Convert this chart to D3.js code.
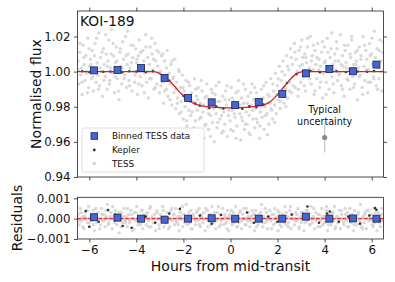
<!DOCTYPE html>
<html><head><meta charset="utf-8">
<script src="https://cdn.jsdelivr.net/npm/d3@7"></script>
<style>body{margin:0;background:#fff}svg{display:block}text{font-family:"DejaVu Sans",sans-serif}</style>
</head><body>
<svg id="c" width="395" height="282"></svg>
<script>
// ---------- DATA ----------
const xTicks = [-6,-4,-2,0,2,4,6];
const fluxTicks = [0.94,0.96,0.98,1.00,1.02];
const residTicks = [-0.001,0.000,0.001];

const binX = [-5.8,-4.8,-3.8,-2.8,-1.8,-0.8,0.2,1.2,2.2,3.2,4.2,5.2,6.2];
const binFlux = [1.0007,1.0009,1.0020,0.9964,0.9850,0.9825,0.9809,0.9827,0.9873,0.9990,1.0015,1.0002,1.0040];
const binResid = [0.00007,0.00005,0.0000,-0.00005,0.0000,0.00002,0.0000,0.0000,0.0000,0.0001,0.0000,0.00001,0.0000];

const modelX = [-6.5,-3.3,-3.1,-2.9,-2.7,-2.5,-2.3,-2.1,-1.9,-1.7,-1.5,-1.2,-0.8,-0.4,0,0.4,0.8,1.2,1.5,1.7,1.9,2.1,2.3,2.5,2.7,2.9,3.1,3.3,6.5];
const modelFlux = [1.000,1.000,0.9995,0.998,0.996,0.9935,0.9905,0.9875,0.985,0.983,0.9815,0.9805,0.9798,0.9795,0.9794,0.9795,0.9798,0.9805,0.9815,0.983,0.9855,0.9885,0.9918,0.995,0.9978,0.9994,1.000,1.000,1.000];

const tessFlux = [[-6.48,1.006],[-6.45,0.993],[-6.41,1.011],[-6.37,0.998],[-6.33,1.002],[-6.30,0.987],[-6.26,1.015],[-6.22,1.004],[-6.18,0.995],[-6.14,1.009],[-6.10,0.999],[-6.06,1.019],[-6.03,0.991],[-5.99,1.003],[-5.95,1.007],[-5.91,0.996],[-5.87,1.012],[-5.83,0.989],[-5.79,1.001],[-5.75,1.016],[-5.71,0.994],[-5.67,1.005],[-5.63,0.998],[-5.60,1.022],[-5.56,0.992],[-5.52,1.008],[-5.48,1.000],[-5.44,0.986],[-5.40,1.013],[-5.36,1.004],[-5.32,0.997],[-5.28,1.010],[-5.24,0.990],[-5.21,1.006],[-5.17,1.018],[-5.13,0.995],[-5.09,1.002],[-5.05,1.024],[-5.01,0.999],[-4.97,1.009],[-4.93,0.988],[-4.89,1.005],[-4.85,1.014],[-4.81,0.996],[-4.78,1.001],[-4.74,0.984],[-4.70,1.011],[-4.66,1.003],[-4.62,0.993],[-4.58,1.017],[-4.54,1.007],[-4.50,0.998],[-4.46,1.020],[-4.42,0.991],[-4.39,1.004],[-4.35,1.010],[-4.31,0.995],[-4.27,1.002],[-4.23,1.015],[-4.19,0.989],[-4.15,1.008],[-4.11,1.000],[-4.07,0.994],[-4.03,1.013],[-3.99,1.005],[-3.95,0.987],[-3.91,1.009],[-3.88,1.018],[-3.84,0.997],[-3.80,1.003],[-3.76,0.992],[-3.72,1.012],[-3.68,1.006],[-3.64,0.999],[-3.60,1.021],[-3.56,0.994],[-3.52,1.008],[-3.49,0.985],[-3.45,1.004],[-3.41,1.014],[-3.37,0.996],[-3.33,1.010],[-3.29,1.001],[-3.25,0.990],[-3.21,1.016],[-3.17,1.006],[-3.13,0.993],[-3.09,1.003],[-3.05,1.011],[-3.01,0.988],[-2.97,1.000],[-2.93,1.009],[-2.89,0.994],[-2.85,0.982],[-2.81,1.006],[-2.77,0.997],[-2.73,0.990],[-2.69,1.012],[-2.65,0.986],[-2.61,0.999],[-2.57,0.993],[-2.53,1.004],[-2.49,0.981],[-2.45,0.996],[-2.41,0.988],[-2.37,1.007],[-2.33,0.979],[-2.29,0.994],[-2.25,0.985],[-2.21,1.001],[-2.17,0.976],[-2.13,0.991],[-2.09,0.983],[-2.05,0.998],[-2.01,0.973],[-1.97,0.989],[-1.93,0.980],[-1.89,0.995],[-1.85,0.969],[-1.81,0.986],[-1.77,0.978],[-1.73,0.992],[-1.69,0.975],[-1.65,0.988],[-1.61,0.966],[-1.57,0.983],[-1.53,0.996],[-1.49,0.972],[-1.45,0.986],[-1.41,0.978],[-1.37,0.991],[-1.33,0.964],[-1.29,0.982],[-1.25,0.974],[-1.21,0.989],[-1.17,0.977],[-1.13,0.962],[-1.09,0.985],[-1.05,0.970],[-1.01,0.993],[-0.97,0.979],[-0.93,0.967],[-0.89,0.984],[-0.85,0.975],[-0.81,0.990],[-0.77,0.971],[-0.73,0.981],[-0.69,0.960],[-0.65,0.987],[-0.61,0.976],[-0.57,0.968],[-0.53,0.983],[-0.49,0.994],[-0.45,0.973],[-0.41,0.979],[-0.37,0.965],[-0.33,0.986],[-0.29,0.977],[-0.25,0.970],[-0.21,0.989],[-0.17,0.981],[-0.13,0.963],[-0.09,0.975],[-0.05,0.984],[-0.01,0.972],[0.03,0.991],[0.07,0.978],[0.11,0.966],[0.15,0.983],[0.19,0.974],[0.23,0.988],[0.27,0.969],[0.31,0.980],[0.35,0.995],[0.39,0.976],[0.43,0.961],[0.47,0.985],[0.51,0.972],[0.55,0.982],[0.59,0.967],[0.63,0.990],[0.67,0.977],[0.71,0.970],[0.75,0.986],[0.79,0.975],[0.83,0.964],[0.87,0.981],[0.91,0.993],[0.95,0.973],[0.99,0.984],[1.03,0.968],[1.07,0.979],[1.11,0.988],[1.15,0.971],[1.19,0.983],[1.23,0.962],[1.27,0.977],[1.31,0.990],[1.35,0.974],[1.39,0.985],[1.43,0.967],[1.47,0.980],[1.51,0.994],[1.55,0.976],[1.59,0.987],[1.63,0.970],[1.67,0.982],[1.71,0.996],[1.75,0.978],[1.79,0.973],[1.83,0.989],[1.87,0.981],[1.91,0.999],[1.95,0.976],[1.99,0.992],[2.03,0.984],[2.07,1.003],[2.11,0.979],[2.15,0.995],[2.19,0.987],[2.23,1.006],[2.27,0.982],[2.31,0.998],[2.35,0.990],[2.39,1.009],[2.43,0.985],[2.47,1.001],[2.51,0.994],[2.55,1.013],[2.59,0.988],[2.63,1.004],[2.67,0.997],[2.71,1.016],[2.75,0.991],[2.79,1.007],[2.83,1.000],[2.87,0.986],[2.91,1.012],[2.95,1.003],[2.99,0.994],[3.03,1.018],[3.07,1.008],[3.11,0.997],[3.15,1.010],[3.19,0.989],[3.23,1.005],[3.27,1.014],[3.31,0.998],[3.35,1.002],[3.39,1.020],[3.43,0.993],[3.47,1.009],[3.51,1.001],[3.55,0.987],[3.59,1.012],[3.63,1.004],[3.67,0.996],[3.71,1.016],[3.75,1.007],[3.79,0.991],[3.83,1.003],[3.87,1.011],[3.91,0.985],[3.95,0.999],[3.99,1.014],[4.03,1.006],[4.07,0.994],[4.11,1.019],[4.15,1.002],[4.19,0.990],[4.23,1.008],[4.27,1.013],[4.31,0.997],[4.35,1.004],[4.39,0.988],[4.43,1.010],[4.47,1.001],[4.51,1.017],[4.55,0.995],[4.59,1.006],[4.63,0.999],[4.67,1.021],[4.71,0.992],[4.75,1.009],[4.79,1.003],[4.83,0.986],[4.87,1.012],[4.91,1.005],[4.95,0.996],[4.99,1.015],[5.03,1.001],[5.07,0.990],[5.11,1.008],[5.15,1.018],[5.19,0.997],[5.23,1.004],[5.27,0.993],[5.31,1.011],[5.35,1.006],[5.39,0.984],[5.43,1.002],[5.47,1.014],[5.51,0.998],[5.55,1.009],[5.59,0.991],[5.63,1.020],[5.67,1.003],[5.71,0.995],[5.75,1.012],[5.79,1.007],[5.83,0.988],[5.87,1.001],[5.91,1.016],[5.95,0.994],[5.99,1.010],[6.03,1.004],[6.07,0.997],[6.11,1.023],[6.15,1.008],[6.19,0.992],[6.23,1.013],[6.27,1.002],[6.31,0.996],[6.35,1.018],[6.39,1.006],[6.43,0.989],[6.47,1.011]];

const tessFlux2 = [[-6.46,1.001],[-6.39,1.016],[-6.31,0.994],[-6.24,1.008],[-6.16,1.000],[-6.08,0.988],[-6.01,1.013],[-5.93,1.004],[-5.85,0.997],[-5.77,1.009],[-5.69,1.019],[-5.61,0.990],[-5.54,1.002],[-5.46,1.011],[-5.38,0.995],[-5.30,1.021],[-5.22,1.003],[-5.15,0.993],[-5.07,1.010],[-4.99,1.016],[-4.91,0.997],[-4.83,1.006],[-4.76,0.989],[-4.68,1.013],[-4.60,1.002],[-4.52,0.996],[-4.44,1.009],[-4.37,1.023],[-4.29,0.992],[-4.21,1.005],[-4.13,1.015],[-4.05,0.998],[-3.98,1.007],[-3.90,0.993],[-3.82,1.011],[-3.74,1.002],[-3.66,0.988],[-3.59,1.014],[-3.51,1.000],[-3.43,0.996],[-3.35,1.019],[-3.27,1.007],[-3.20,0.991],[-3.12,1.012],[-3.04,0.999],[-2.96,0.992],[-2.88,1.010],[-2.80,0.989],[-2.72,1.002],[-2.65,0.995],[-2.57,0.984],[-2.49,1.006],[-2.41,0.997],[-2.33,0.990],[-2.26,0.982],[-2.18,1.000],[-2.10,0.977],[-2.02,0.991],[-1.94,0.985],[-1.87,0.972],[-1.79,0.994],[-1.71,0.983],[-1.63,0.977],[-1.55,0.968],[-1.48,0.990],[-1.40,0.984],[-1.32,0.973],[-1.24,0.995],[-1.16,0.981],[-1.09,0.969],[-1.01,0.986],[-0.93,0.976],[-0.85,0.963],[-0.77,0.988],[-0.70,0.979],[-0.62,0.992],[-0.54,0.971],[-0.46,0.983],[-0.38,0.975],[-0.31,0.966],[-0.23,0.984],[-0.15,0.992],[-0.07,0.978],[0.01,0.967],[0.08,0.985],[0.16,0.976],[0.24,0.962],[0.32,0.989],[0.40,0.981],[0.47,0.974],[0.55,0.993],[0.63,0.970],[0.71,0.982],[0.79,0.965],[0.86,0.988],[0.94,0.978],[1.02,0.991],[1.10,0.973],[1.18,0.984],[1.25,0.969],[1.33,0.980],[1.41,0.992],[1.49,0.975],[1.57,0.964],[1.64,0.986],[1.72,0.979],[1.80,0.993],[1.88,0.971],[1.96,0.987],[2.03,0.996],[2.11,0.983],[2.19,1.000],[2.27,0.991],[2.35,0.980],[2.42,1.003],[2.50,0.989],[2.58,1.008],[2.66,0.992],[2.74,1.011],[2.81,0.998],[2.89,0.990],[2.97,1.014],[3.05,1.004],[3.13,0.992],[3.20,1.008],[3.28,1.019],[3.36,0.996],[3.44,1.006],[3.52,1.015],[3.59,0.989],[3.67,1.008],[3.75,1.001],[3.83,0.994],[3.91,1.017],[3.98,1.005],[4.06,0.987],[4.14,1.011],[4.22,1.000],[4.30,1.022],[4.37,0.993],[4.45,1.006],[4.53,1.013],[4.61,0.998],[4.69,1.004],[4.76,0.990],[4.84,1.015],[4.92,1.002],[5.00,0.995],[5.08,1.010],[5.15,1.020],[5.23,0.991],[5.31,1.004],[5.39,1.012],[5.47,0.997],[5.54,1.007],[5.62,0.987],[5.70,1.015],[5.78,1.001],[5.86,0.994],[5.93,1.009],[6.01,1.019],[6.09,0.996],[6.17,1.004],[6.25,0.990],[6.32,1.012],[6.40,1.000],[6.48,1.017]];

const keplerFlux = [[-6.3,1.0002],[-6.0,0.9998],[-5.7,1.0003],[-5.4,0.9999],[-5.1,1.0001],[-4.6,0.9997],[-4.3,1.0002],[-4.0,1.0000],[-3.6,0.9998],[-3.3,1.0002],[-2.6,0.9948],[-2.0,0.9862],[-1.5,0.9818],[-1.3,0.9806],[-0.9,0.9793],[-0.6,0.9801],[-0.3,0.9790],[0.1,0.9797],[0.5,0.9789],[0.8,0.9802],[1.1,0.9799],[1.4,0.9812],[2.4,0.9935],[2.8,0.9986],[3.4,1.0003],[3.8,0.9997],[4.5,1.0002],[4.9,0.9998],[5.4,1.0001],[5.8,0.9999],[6.1,1.0003]];

// residuals in units of 1e-4
const tessResid1e4 = [[-6.48,2],[-6.43,-3],[-6.38,5],[-6.33,-1],[-6.28,1],[-6.23,-5],[-6.18,3],[-6.13,0],[-6.08,-2],[-6.03,6],[-5.98,-4],[-5.93,1],[-5.88,-1],[-5.83,4],[-5.78,-6],[-5.73,2],[-5.68,-2],[-5.63,3],[-5.58,0],[-5.53,-3],[-5.48,5],[-5.43,-1],[-5.38,2],[-5.33,-4],[-5.28,1],[-5.23,7],[-5.18,-2],[-5.13,0],[-5.08,3],[-5.03,-5],[-4.98,1],[-4.93,-1],[-4.88,4],[-4.83,-3],[-4.78,2],[-4.73,-7],[-4.68,0],[-4.63,3],[-4.58,-2],[-4.53,5],[-4.48,-1],[-4.43,1],[-4.38,-4],[-4.33,2],[-4.28,-2],[-4.23,4],[-4.18,-6],[-4.13,0],[-4.08,3],[-4.03,-1],[-3.98,6],[-3.93,-3],[-3.88,1],[-3.83,-2],[-3.78,4],[-3.73,-5],[-3.68,2],[-3.63,0],[-3.58,-3],[-3.53,3],[-3.48,-1],[-3.43,5],[-3.38,-4],[-3.33,1],[-3.28,-2],[-3.23,2],[-3.18,-6],[-3.13,4],[-3.08,0],[-3.03,-3],[-2.98,2],[-2.93,-1],[-2.88,6],[-2.83,-4],[-2.78,1],[-2.73,-2],[-2.68,3],[-2.63,-5],[-2.58,0],[-2.53,4],[-2.48,-1],[-2.43,2],[-2.38,-3],[-2.33,5],[-2.28,-2],[-2.23,1],[-2.18,-6],[-2.13,3],[-2.08,0],[-2.03,-4],[-1.98,2],[-1.93,-1],[-1.88,7],[-1.83,-3],[-1.78,1],[-1.73,-2],[-1.68,4],[-1.63,-5],[-1.58,2],[-1.53,0],[-1.48,-3],[-1.43,3],[-1.38,-1],[-1.33,5],[-1.28,-4],[-1.23,1],[-1.18,-2],[-1.13,3],[-1.08,-6],[-1.03,0],[-0.98,4],[-0.93,-1],[-0.88,2],[-0.83,-3],[-0.78,6],[-0.73,-2],[-0.68,1],[-0.63,-5],[-0.58,3],[-0.53,0],[-0.48,-4],[-0.43,2],[-0.38,-1],[-0.33,5],[-0.28,-3],[-0.23,1],[-0.18,-2],[-0.13,4],[-0.08,-6],[-0.03,2],[0.02,0],[0.07,-3],[0.12,3],[0.17,-1],[0.22,6],[0.27,-4],[0.32,1],[0.37,-2],[0.42,4],[0.47,-5],[0.52,2],[0.57,0],[0.62,-3],[0.67,5],[0.72,-1],[0.77,3],[0.82,-4],[0.87,1],[0.92,-2],[0.97,2],[1.02,-6],[1.07,4],[1.12,0],[1.17,-3],[1.22,2],[1.27,-1],[1.32,7],[1.37,-4],[1.42,1],[1.47,-2],[1.52,3],[1.57,-5],[1.62,0],[1.67,4],[1.72,-1],[1.77,2],[1.82,-3],[1.87,5],[1.92,-2],[1.97,1],[2.02,-6],[2.07,3],[2.12,0],[2.17,-4],[2.22,2],[2.27,-1],[2.32,6],[2.37,-3],[2.42,1],[2.47,-2],[2.52,4],[2.57,-5],[2.62,2],[2.67,0],[2.72,-3],[2.77,3],[2.82,-1],[2.87,5],[2.92,-4],[2.97,1],[3.02,-2],[3.07,3],[3.12,-6],[3.17,0],[3.22,4],[3.27,-1],[3.32,2],[3.37,-3],[3.42,6],[3.47,-2],[3.52,1],[3.57,-5],[3.62,3],[3.67,0],[3.72,-4],[3.77,2],[3.82,-1],[3.87,5],[3.92,-3],[3.97,1],[4.02,-2],[4.07,4],[4.12,-6],[4.17,2],[4.22,0],[4.27,-3],[4.32,3],[4.37,-1],[4.42,6],[4.47,-4],[4.52,1],[4.57,-2],[4.62,4],[4.67,-5],[4.72,2],[4.77,0],[4.82,-3],[4.87,5],[4.92,-1],[4.97,3],[5.02,-4],[5.07,1],[5.12,-2],[5.17,2],[5.22,-6],[5.27,4],[5.32,0],[5.37,-3],[5.42,2],[5.47,-1],[5.52,7],[5.57,-4],[5.62,1],[5.67,-2],[5.72,3],[5.77,-5],[5.82,0],[5.87,4],[5.92,-1],[5.97,2],[6.02,-3],[6.07,5],[6.12,-2],[6.17,1],[6.22,-6],[6.27,3],[6.32,0],[6.37,-4],[6.42,2],[6.47,-1]];

const tessResid2_1e4 = [[-6.45,-1],[-6.36,3],[-6.27,-4],[-6.18,1],[-6.09,4],[-6.00,-2],[-5.91,2],[-5.82,-3],[-5.73,5],[-5.64,0],[-5.55,-5],[-5.46,2],[-5.37,-1],[-5.28,4],[-5.19,-3],[-5.10,1],[-5.01,6],[-4.92,-2],[-4.83,0],[-4.74,3],[-4.65,-4],[-4.56,1],[-4.47,-2],[-4.38,5],[-4.29,-1],[-4.20,2],[-4.11,-5],[-4.02,3],[-3.93,0],[-3.84,-3],[-3.75,4],[-3.66,-1],[-3.57,2],[-3.48,-4],[-3.39,6],[-3.30,0],[-3.21,-2],[-3.12,3],[-3.03,-5],[-2.94,1],[-2.85,4],[-2.76,-2],[-2.67,0],[-2.58,-4],[-2.49,5],[-2.40,2],[-2.31,-1],[-2.22,-3],[-2.13,1],[-2.04,6],[-1.95,-2],[-1.86,0],[-1.77,3],[-1.68,-5],[-1.59,1],[-1.50,-1],[-1.41,4],[-1.32,-3],[-1.23,2],[-1.14,0],[-1.05,5],[-0.96,-4],[-0.87,1],[-0.78,-2],[-0.69,3],[-0.60,-1],[-0.51,6],[-0.42,-3],[-0.33,0],[-0.24,2],[-0.15,-5],[-0.06,1],[0.03,4],[0.12,-2],[0.21,0],[0.30,-4],[0.39,3],[0.48,-1],[0.57,5],[0.66,-3],[0.75,1],[0.84,-1],[0.93,4],[1.02,2],[1.11,-4],[1.20,0],[1.29,3],[1.38,-2],[1.47,5],[1.56,-1],[1.65,1],[1.74,-5],[1.83,2],[1.92,0],[2.01,4],[2.10,-3],[2.19,1],[2.28,-2],[2.37,3],[2.46,-4],[2.55,6],[2.64,0],[2.73,-1],[2.82,2],[2.91,-5],[3.00,3],[3.09,1],[3.18,-2],[3.27,4],[3.36,-3],[3.45,0],[3.54,5],[3.63,-1],[3.72,2],[3.81,-4],[3.90,1],[3.99,-2],[4.08,6],[4.17,-3],[4.26,0],[4.35,3],[4.44,-5],[4.53,1],[4.62,-1],[4.71,4],[4.80,-2],[4.89,2],[4.98,-4],[5.07,5],[5.16,0],[5.25,-3],[5.34,1],[5.43,3],[5.52,-2],[5.61,-5],[5.70,2],[5.79,4],[5.88,-1],[5.97,0],[6.06,-4],[6.15,3],[6.24,1],[6.33,-2],[6.42,5]];

const keplerResid1e4 = [[-6.15,3.8],[-6.0,-4.0],[-5.6,-1.5],[-5.2,4.2],[-4.9,2.0],[-4.58,-3.6],[-4.2,-4.5],[-3.6,1.0],[-3.2,-2.0],[-2.6,2.5],[-2.15,4.8],[-1.7,-1.0],[-1.3,1.5],[-0.8,-2.5],[-0.4,1.8],[0.3,-1.2],[0.7,3.0],[1.0,-2.0],[1.6,1.0],[2.0,-1.5],[2.6,2.0],[3.27,6.0],[3.76,-2.0],[4.1,2.5],[4.22,3.5],[4.6,-1.5],[5.0,1.0],[5.5,-2.5],[5.9,1.5],[6.14,5.2],[6.2,4.4],[6.35,-1.0]];

const uncX = 4, uncFlux = 0.9625, uncErr = 0.0085;

// ---------- LAYOUT ----------
const svg = d3.select("#c");
const x = d3.scaleLinear().domain([-6.5,6.5]).range([77.5,383.5]);
const yT = d3.scaleLinear().domain([0.94,1.0345]).range([177,11]);
const yB = d3.scaleLinear().domain([-0.001,0.00105]).range([239,197.3]);
const defs = svg.append("defs");
defs.append("clipPath").attr("id","cT").append("rect").attr("x",77.5).attr("y",11).attr("width",306).attr("height",166);
defs.append("clipPath").attr("id","cB").append("rect").attr("x",77.5).attr("y",197.3).attr("width",306).attr("height",41.7);

const grey = "#d3d3d3";
const allTess = tessFlux.concat(tessFlux2);
const allResid = tessResid1e4.concat(tessResid2_1e4);
// ---- top panel ----
const gT = svg.append("g").attr("clip-path","url(#cT)");
gT.selectAll("circle.t").data(allTess).join("circle").attr("cx",d=>x(d[0])).attr("cy",d=>yT(d[1])).attr("r",1.75).attr("fill",grey).attr("opacity",0.85);
gT.append("line").attr("x1",x(uncX)).attr("x2",x(uncX)).attr("y1",yT(uncFlux+uncErr)).attr("y2",yT(uncFlux-uncErr)).attr("stroke","#cbcbcb").attr("stroke-width",1.3);
gT.append("circle").attr("cx",x(uncX)).attr("cy",yT(uncFlux)).attr("r",2.6).attr("fill","#8a8a8a");
gT.selectAll("circle.k").data(keplerFlux).join("circle").attr("cx",d=>x(d[0])).attr("cy",d=>yT(d[1])).attr("r",1.3).attr("fill","#333");
const line = d3.line().x(d=>x(d[0])).y(d=>yT(d[1])).curve(d3.curveMonotoneX);
gT.append("path").attr("d",line(modelX.map((v,i)=>[v,modelFlux[i]]))).attr("fill","none").attr("stroke","#d62020").attr("stroke-width",1.3);
gT.selectAll("rect.b").data(binX).join("rect").attr("x",(d)=>x(d)-3.5).attr("y",(d,i)=>yT(binFlux[i])-3.5).attr("width",7).attr("height",7).attr("fill","#4466d4").attr("stroke","#1b1f4a").attr("stroke-width",0.8);

// ---- bottom panel ----
const gB = svg.append("g").attr("clip-path","url(#cB)");
gB.selectAll("circle.t").data(allResid).join("circle").attr("cx",d=>x(d[0])).attr("cy",d=>yB(d[1]/1e4)).attr("r",1.75).attr("fill",grey).attr("opacity",0.85);
gB.append("rect").attr("x",77.5).attr("width",306).attr("y",yB(0.00008)).attr("height",yB(-0.00008)-yB(0.00008)).attr("fill","#f3a8a8").attr("opacity",0.55);
gB.selectAll("circle.k").data(keplerResid1e4).join("circle").attr("cx",d=>x(d[0])).attr("cy",d=>yB(d[1]/1e4)).attr("r",1.3).attr("fill","#333");
gB.append("line").attr("x1",77.5).attr("x2",383.5).attr("y1",yB(0)).attr("y2",yB(0)).attr("stroke","#d62020").attr("stroke-width",1).attr("stroke-dasharray","3.7,1.6");
gB.selectAll("rect.b").data(binX).join("rect").attr("x",(d)=>x(d)-3.5).attr("y",(d,i)=>yB(binResid[i])-3.5).attr("width",7).attr("height",7).attr("fill","#4466d4").attr("stroke","#1b1f4a").attr("stroke-width",0.8);

// ---- axes ----
function styleAxis(g){ g.select(".domain").remove(); g.selectAll("line").attr("stroke","#222").attr("stroke-width",0.8); g.selectAll("text").attr("font-size","11.8px").attr("fill","#111").attr("font-family","DejaVu Sans"); }
svg.append("g").attr("transform","translate(77.5,0)").call(d3.axisLeft(yT).tickValues(fluxTicks).tickFormat(d3.format(".2f")).tickSize(3.5).tickPadding(3.5)).call(styleAxis);
svg.append("g").attr("transform","translate(383.5,0)").call(d3.axisRight(yT).tickValues(fluxTicks).tickFormat("").tickSize(3.5)).call(styleAxis);
svg.append("g").attr("transform","translate(0,11)").call(d3.axisTop(x).tickValues(xTicks).tickFormat("").tickSize(3.5)).call(styleAxis);
svg.append("g").attr("transform","translate(0,177)").call(d3.axisBottom(x).tickValues(xTicks).tickFormat("").tickSize(3.5)).call(styleAxis);
svg.append("g").attr("transform","translate(77.5,0)").call(d3.axisLeft(yB).tickValues(residTicks).tickFormat(d3.format(".3f")).tickSize(3.5).tickPadding(3.5)).call(styleAxis);
svg.append("g").attr("transform","translate(0,239)").call(d3.axisBottom(x).tickValues(xTicks).tickFormat(d3.format("d")).tickSize(3.5).tickPadding(3.5)).call(styleAxis);

svg.append("rect").attr("x",77.5).attr("y",11).attr("width",306).attr("height",166).attr("fill","none").attr("stroke","#222").attr("stroke-width",0.8);
svg.append("rect").attr("x",77.5).attr("y",197.3).attr("width",306).attr("height",41.7).attr("fill","none").attr("stroke","#222").attr("stroke-width",0.8);

// labels
svg.append("text").attr("x",80).attr("y",25.7).attr("font-size","13.8px").attr("fill","#111").text("KOI-189");
svg.append("text").attr("transform","translate(40.5,94) rotate(-90)").attr("text-anchor","middle").attr("font-size","14px").attr("fill","#111").text("Normalised flux");
svg.append("text").attr("transform","translate(22,218) rotate(-90)").attr("text-anchor","middle").attr("font-size","14px").attr("fill","#111").text("Residuals");
svg.append("text").attr("x",230.5).attr("y",270.7).attr("text-anchor","middle").attr("font-size","14px").attr("fill","#111").text("Hours from mid-transit");
svg.append("text").attr("x",x(uncX)).attr("y",113.3).attr("text-anchor","middle").attr("font-size","9.6px").attr("fill","#111").text("Typical");
svg.append("text").attr("x",x(uncX)).attr("y",124.5).attr("text-anchor","middle").attr("font-size","9.6px").attr("fill","#111").text("uncertainty");

// legend
const lg = svg.append("g");
lg.append("rect").attr("x",82).attr("y",128).attr("width",122).attr("height",44).attr("rx",2.5).attr("fill","#fff").attr("fill-opacity",0.85).attr("stroke","#d6d6d6").attr("stroke-width",0.8);
const legendItems = ["Binned TESS data","Kepler","TESS"];
const ly = [136,150,163.5];
lg.append("rect").attr("x",91).attr("y",ly[0]-3.3).attr("width",6.6).attr("height",6.6).attr("fill","#4466d4").attr("stroke","#1b1f4a").attr("stroke-width",0.8);
lg.append("circle").attr("cx",94.3).attr("cy",ly[1]).attr("r",1.4).attr("fill","#333");
lg.append("circle").attr("cx",94.3).attr("cy",ly[2]).attr("r",1.8).attr("fill",grey);
lg.selectAll("text").data(legendItems).join("text").attr("x",112).attr("y",(d,i)=>ly[i]+3.3).attr("font-size","8.8px").attr("fill","#111").text(d=>d);
</script>
</body></html>
